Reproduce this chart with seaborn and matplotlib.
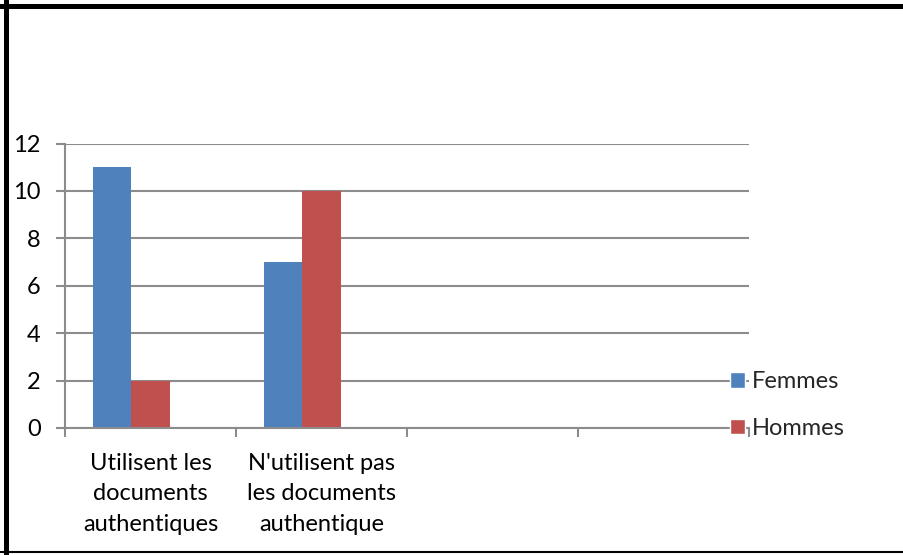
import pandas as pd
import seaborn as sns
import matplotlib.pyplot as plt
from matplotlib.patches import Patch
from matplotlib.lines import Line2D

# data
categories = ["Utilisent les\ndocuments\nauthentiques",
              "N'utilisent pas\nles documents\nauthentique"]
femmes = [11, 7]
hommes = [2, 10]
# Excel keeps an empty third series slot and two empty category slots
series = ["Femmes", "Hommes", "_vide"]
n_slots = 4

df = pd.DataFrame({
    "categorie": categories * 3,
    "serie": [s for s in series for _ in categories],
    "valeur": femmes + hommes + [0, 0],
})

sns.set_theme(style="white")
plt.rcParams['font.family'] = ['Lato', 'DejaVu Sans']

colors = {"Femmes": "#4F81BD", "Hommes": "#C0504D", "_vide": "white"}
grid_col = "#8C8C8C"
fs = 17

fig = plt.figure(figsize=(9.04, 5.55), dpi=100)
ax = fig.add_axes([65 / 904, 1 - 428 / 555, (749 - 65) / 904, (428 - 143.5) / 555])

sns.barplot(data=df, x="categorie", y="valeur", hue="serie", order=categories,
            hue_order=series, palette=colors, width=0.675, linewidth=0,
            saturation=1, legend=False, ax=ax)

ax.set_xlim(-0.5, n_slots - 0.5)
ax.set_ylim(0, 12)
ax.set_yticks(range(0, 13, 2))
ax.set_xlabel("")
ax.set_ylabel("")

ax.yaxis.grid(True, color=grid_col, linewidth=1.5)
ax.set_axisbelow(True)
for s in ["top", "right"]:
    ax.spines[s].set_visible(False)
for s in ["left", "bottom"]:
    ax.spines[s].set_color(grid_col)
    ax.spines[s].set_linewidth(1.5)

ax.tick_params(axis="y", length=6.5, width=1.5, color=grid_col, direction="out",
               pad=11, labelsize=fs, labelcolor="black", left=True)
ax.set_xticks(range(len(categories)))
ax.set_xticklabels(categories, fontsize=fs, linespacing=1.55)
ax.tick_params(axis="x", which="major", length=0, pad=18, labelcolor="black")
ax.set_xticks([i - 0.5 for i in range(n_slots + 1)], minor=True)
ax.tick_params(axis="x", which="minor", length=6.5, width=1.5, color=grid_col,
               direction="out", bottom=True)

handles = [Patch(facecolor=colors["Femmes"], label="Femmes"),
           Patch(facecolor=colors["Hommes"], label="Hommes")]
fig.legend(handles=handles, loc="center left", bbox_to_anchor=(730 / 904, 1 - 405 / 555),
           frameon=False, fontsize=fs, handlelength=0.64, handleheight=0.64,
           handletextpad=0.3, labelspacing=1.1, borderpad=0, borderaxespad=0)

# black frame of the screenshot (top, left, bottom)
fig.add_artist(Line2D([0, 1], [1 - 5.5 / 555] * 2, color="black", linewidth=3.6,
                      transform=fig.transFigure))
fig.add_artist(Line2D([6.5 / 904] * 2, [0, 1], color="black", linewidth=3.6,
                      transform=fig.transFigure))
fig.add_artist(Line2D([0, 1], [1 - 552 / 555] * 2, color="black", linewidth=1.5,
                      transform=fig.transFigure))

plt.savefig("out.png", dpi=100)
